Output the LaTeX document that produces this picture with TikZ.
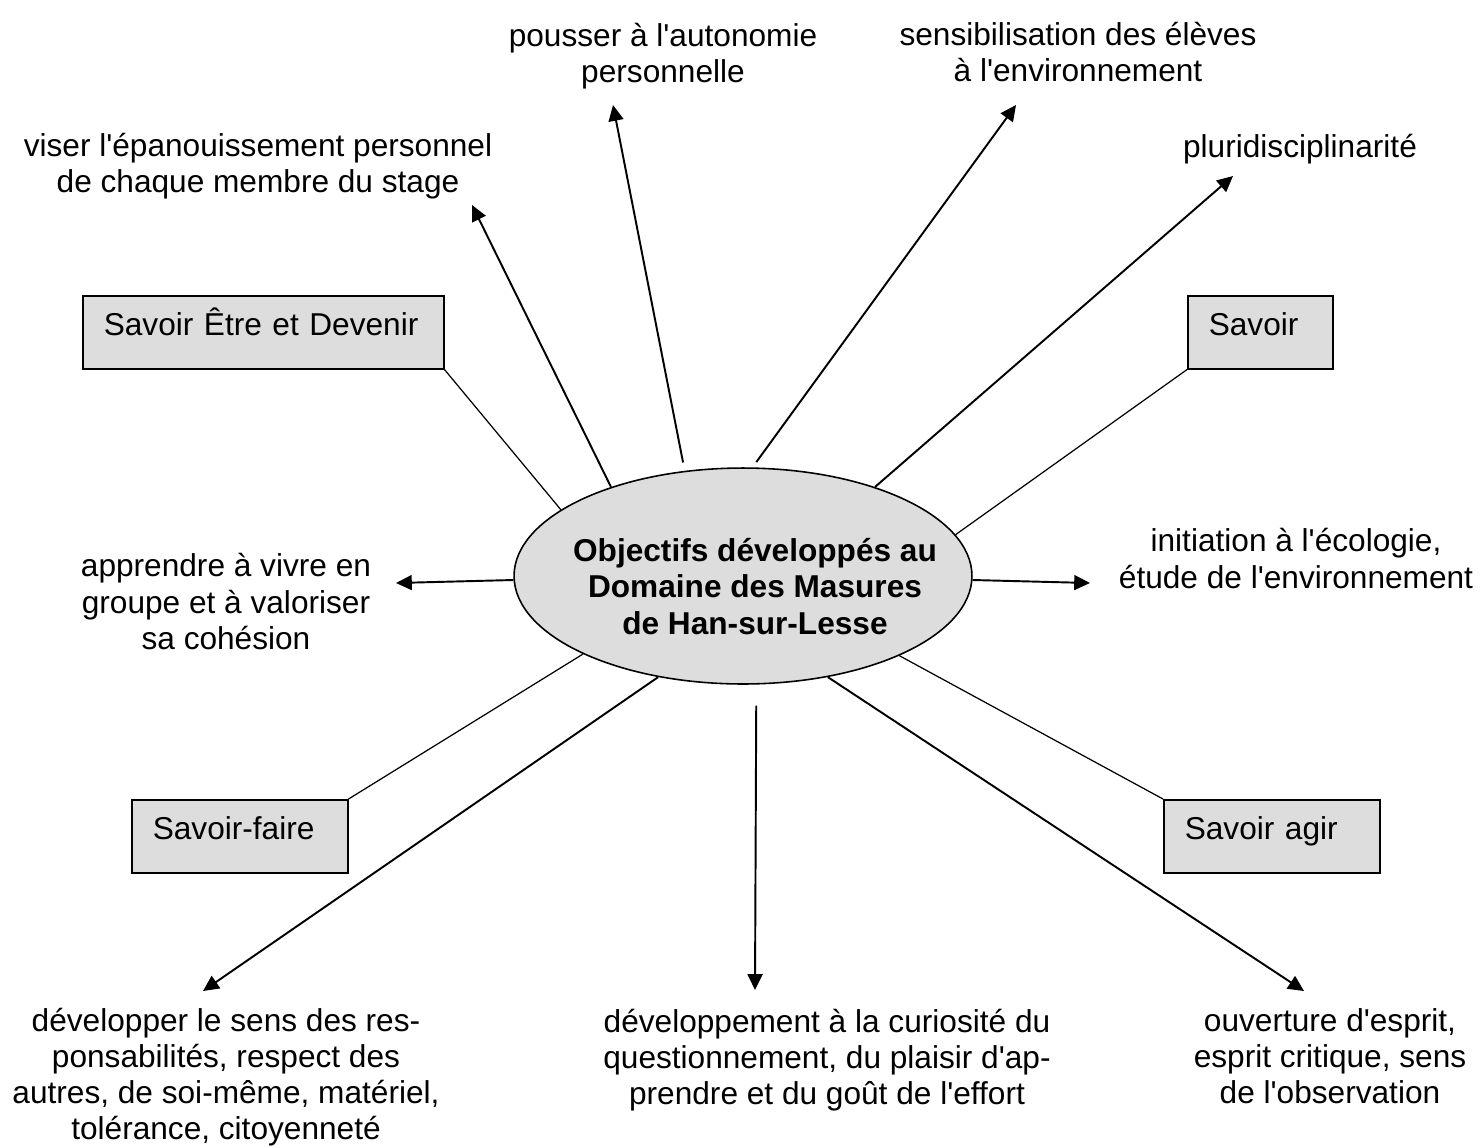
\documentclass[tikz,border=0pt]{standalone}
\usepackage{fontspec}
\setmainfont{Liberation Sans}[Ligatures={TeXOff,CommonOff}]
\usetikzlibrary{shapes.geometric,arrows.meta}
\definecolor{fillgrey}{RGB}{221,221,221}

\begin{document}
\begin{tikzpicture}[x=0.02cm,y=-0.02cm,font=\fontsize{18}{20.5}\selectfont,
            centre/.style={ellipse,draw,line width=0.9pt,fill=fillgrey,minimum width=9.16cm,minimum height=4.32cm,inner sep=0pt},
            centretext/.style={align=center,font=\fontsize{18}{21}\selectfont\bfseries},
            savbox/.style={draw,line width=0.9pt,fill=fillgrey,anchor=north west,inner xsep=0.42cm,inner ysep=0pt,text height=0.8cm,text depth=0.66cm,align=left},
            aim/.style={align=center},
            arr/.style={-{Triangle[length=9pt,width=8.5pt]},line width=1.1pt},
            link/.style={line width=0.7pt}]

            \useasboundingbox (0,0) rectangle (1481,1147);

            \node (obj) at (743,576) [centre] {};
            \node (objtxt) at (755,586.5) [centretext] {Objectifs développés au\\Domaine des Masures\\de Han-sur-Lesse};

            \node (etre) at (82,295) [savbox,text width=6.38cm] {Savoir Être et Devenir};
            \node (savoir) at (1187,295) [savbox,text width=2.06cm] {Savoir};
            \node (faire) at (131,799) [savbox,text width=3.48cm] {Savoir-faire};
            \node (agir) at (1163,799) [savbox,text width=3.48cm] {Savoir agir};

            \node (viser) at (258,166) [aim] {viser l'épanouissement personnel\\de chaque membre du stage};
            \node (pousser) at (663,56) [aim] {pousser à l'autonomie\\personnelle};
            \node (sensib) at (1078,52) [aim] {sensibilisation des élèves\\à l'environnement};
            \node (pluri) at (1300,157) [anchor=base] {pluridisciplinarité};
            \node (groupe) at (226,601.5) [aim] {apprendre à vivre en\\groupe et à valoriser\\sa cohésion};
            \node (ecolo) at (1296,558.5) [aim] {initiation à l'écologie,\\étude de l'environnement};
            \node (respons) at (226,1077) [aim] {développer le sens des res-\\ponsabilités, respect des\\autres, de soi-même, matériel,\\tolérance, citoyenneté};
            \node (curio) at (827,1060) [aim] {développement à la curiosité du\\questionnement, du plaisir d'ap-\\prendre et du goût de l'effort};
            \node (esprit) at (1330,1056.5) [aim] {ouverture d'esprit,\\esprit critique, sens\\de l'observation};

            \coordinate (tviser) at (472,205);
            \coordinate (tpous) at (613,105);
            \coordinate (tsens) at (1016,105);
            \coordinate (tpluri) at (1233,176);
            \coordinate (tleft) at (396,583);
            \coordinate (tright) at (1090,583);
            \coordinate (tdl) at (203,991);
            \coordinate (tdown) at (755,990);
            \coordinate (tdr) at (1304,991);

            \draw[arr] (obj.146.2) -- (tviser);
            \draw[arr,shorten <=0.17cm] (obj.119.2) -- (tpous);
            \draw[arr,shorten <=0.13cm] (obj.85.75) -- (tsens);
            \draw[arr] (obj.34) -- (tpluri);
            \draw[arr] (obj.181.75) -- (tleft);
            \draw[arr] (obj.-1.75) -- (tright);
            \draw[arr] (obj.230.9) -- (tdl);
            \draw[arr,shorten <=0.42cm] (obj.-83.65) -- (tdown);
            \draw[arr] (obj.-50.9) -- (tdr);

            \draw[link] (etre.south east) -- (obj.160) (savoir.south west) -- (obj.11.9);
            \draw[link] (faire.north east) -- (obj.206.8) (agir.north west) -- (obj.-27);

        \end{tikzpicture}
\end{document}
